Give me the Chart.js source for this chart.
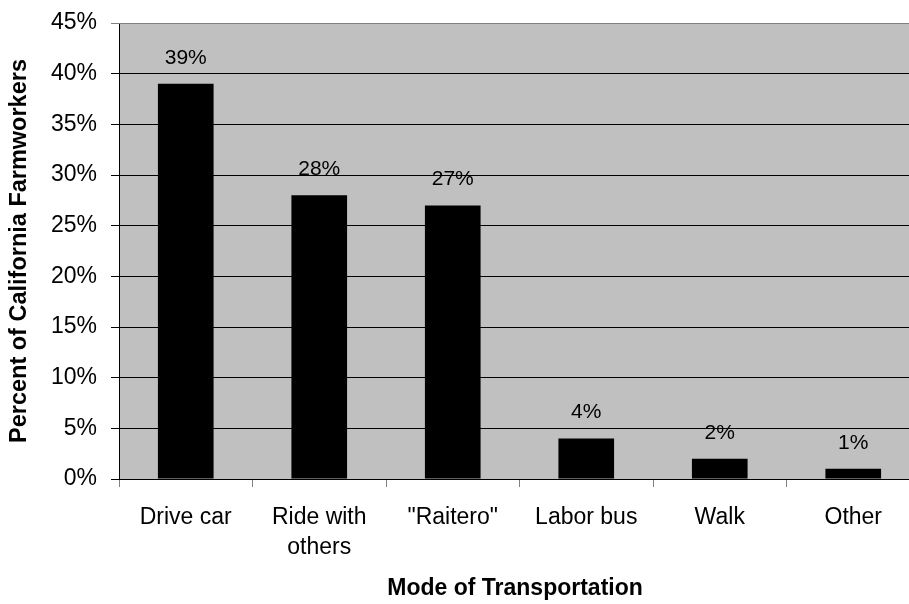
<!DOCTYPE html>
<html>
<head>
<meta charset="utf-8">
<script src="https://cdn.jsdelivr.net/npm/chart.js@4/dist/chart.umd.min.js"></script>
<style>
  html, body { margin: 0; padding: 0; background: #fff; overflow: hidden; width: 909px; height: 604px; }
  #wrap { position: absolute; left: 0; top: 0; width: 922px; height: 604px; }
</style>
</head>
<body>
<div id="wrap"><canvas id="c" width="922" height="604"></canvas></div>
<script>
const categories = ["Drive car", ["Ride with", "others"], "\"Raitero\"", "Labor bus", "Walk", "Other"];
const percentValues = [39, 28, 27, 4, 2, 1];
const yTickMax = 45;
const yTickStep = 5;

const FONT = "'Liberation Sans', Arial, sans-serif";

const plotBg = {
  id: 'plotBg',
  beforeDraw(chart) {
    const { ctx, chartArea: a } = chart;
    ctx.save();
    ctx.fillStyle = '#C0C0C0';
    ctx.fillRect(a.left, a.top, a.right - a.left, a.bottom - a.top);
    ctx.restore();
  },
  afterDraw(chart) {
    const { ctx, chartArea: a } = chart;
    ctx.save();
    ctx.strokeStyle = '#808080';
    ctx.lineWidth = 1;
    ctx.beginPath();
    ctx.moveTo(a.left, a.top + 0.5);
    ctx.lineTo(a.right, a.top + 0.5);
    ctx.stroke();
    ctx.restore();
  }
};

const valueLabels = {
  id: 'valueLabels',
  afterDatasetsDraw(chart) {
    const { ctx } = chart;
    const meta = chart.getDatasetMeta(0);
    ctx.save();
    ctx.fillStyle = '#000';
    ctx.font = '21px ' + FONT;
    ctx.textAlign = 'center';
    ctx.textBaseline = 'middle';
    meta.data.forEach((bar, i) => {
      ctx.fillText(percentValues[i] + '%', bar.x, bar.y - 26);
    });
    ctx.restore();
  }
};

const xTitle = {
  id: 'xTitle',
  afterDraw(chart) {
    const { ctx } = chart;
    ctx.save();
    ctx.fillStyle = '#000';
    ctx.font = 'bold 23px ' + FONT;
    ctx.textAlign = 'center';
    ctx.textBaseline = 'middle';
    ctx.fillText('Mode of Transportation', 515, 589);
    ctx.restore();
  }
};

new Chart(document.getElementById('c'), {
  type: 'bar',
  data: {
    labels: categories,
    datasets: [{
      data: percentValues,
      backgroundColor: '#000000',
      borderWidth: 0,
      categoryPercentage: 1,
      barPercentage: 0.417
    }]
  },
  options: {
    responsive: false,
    animation: false,
    events: [],
    layout: { padding: { left: 0, top: 23, right: 2, bottom: 0 } },
    plugins: { legend: { display: false }, tooltip: { enabled: false } },
    scales: {
      x: {
        grid: { display: true, drawOnChartArea: false, drawTicks: true, tickLength: 8, color: '#808080', offset: true },
        border: { display: true, color: '#000000', width: 1 },
        ticks: { color: '#000', font: { family: FONT, size: 23, lineHeight: 1.33 }, padding: 15, maxRotation: 0, autoSkip: false },
        afterFit(scale) { scale.height = 125; scale.paddingLeft = 0; scale.paddingRight = 0; }
      },
      y: {
        min: 0, max: yTickMax,
        grid: {
          color: (c) => (c.tick && c.tick.value === yTickMax) ? '#808080' : '#000000',
          lineWidth: 1, tickLength: 8, drawTicks: true
        },
        border: { display: true, color: '#000000', width: 1 },
        ticks: { stepSize: yTickStep, color: '#000', padding: 14, font: { family: FONT, size: 23 }, callback: (v) => v + '%' },
        title: { display: true, text: 'Percent of California Farmworkers', color: '#000', font: { family: FONT, size: 23.5, weight: 'bold' }, padding: { top: 5, bottom: 0 } },
        afterFit(scale) { scale.width = 119; scale.paddingTop = 0; scale.paddingBottom = 0; }
      }
    }
  },
  plugins: [plotBg, valueLabels, xTitle]
});
</script>
</body>
</html>
